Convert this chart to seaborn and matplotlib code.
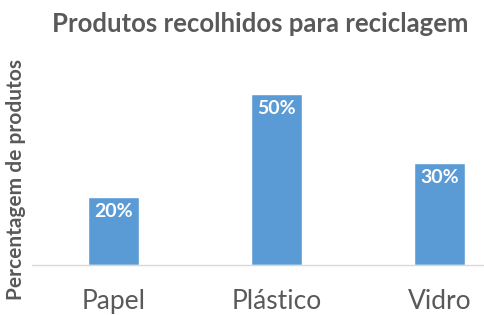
import numpy as np
import pandas as pd
import seaborn as sns
import matplotlib.pyplot as plt

# valores
categorias = ['Papel', 'Plástico', 'Vidro']
percentagens = [0.20, 0.50, 0.30]
rotulos = ['20%', '50%', '30%']

df = pd.DataFrame({'categoria': categorias, 'pct': percentagens})

sns.set_theme(style='white')
plt.rcParams['font.family'] = ['Lato', 'DejaVu Sans']

cinza = '#595959'
azul = '#5B9BD5'

fig = plt.figure(figsize=(4.84, 3.15), dpi=100)
# eixo mais largo que a figura: o grafico original esta cortado a direita
ax = fig.add_axes([32 / 484, 50 / 315, 489 / 484, 205 / 315])

sns.barplot(data=df, x='categoria', y='pct', color=azul, saturation=1,
            width=0.31, ax=ax)

for i, (v, txt) in enumerate(zip(percentagens, rotulos)):
    ax.text(i, v - 0.018, txt, ha='center', va='top', color='white',
            fontsize=14, fontweight='bold')

ax.set_xlim(-0.5, 2.5)
ax.set_ylim(0, 0.6)
ax.set_yticks([])
ax.set_xlabel('')
ax.set_ylabel('Percentagem de produtos', color=cinza, fontsize=15,
              fontweight='bold')
ax.yaxis.set_label_coords(-6 / 489, 0.415)
ax.tick_params(axis='x', length=0, labelsize=19, labelcolor=cinza, pad=17)

for s in ['top', 'right', 'left']:
    ax.spines[s].set_visible(False)
ax.spines['bottom'].set_color('#D9D9D9')
ax.spines['bottom'].set_linewidth(1)

fig.text(260 / 484, 1 - 24 / 315, 'Produtos recolhidos para reciclagem',
         ha='center', va='center', color=cinza, fontsize=18.5, fontweight='bold')

fig.savefig('out.png', dpi=100)
